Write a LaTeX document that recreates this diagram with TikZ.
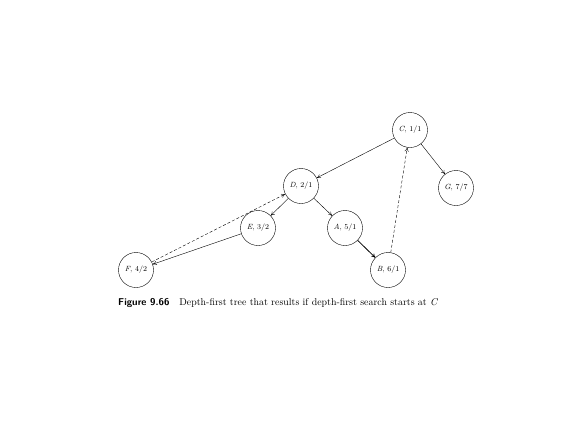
\documentclass[tikz,border=0pt]{standalone}
\usetikzlibrary{arrows.meta}
\begin{document}
\begin{tikzpicture}[x=1pt,y=-1pt,
  vert/.style={circle,draw,line width=0.4pt,minimum size=35pt,inner sep=0pt,font=\fontsize{7.5}{8}\selectfont},
  edge/.style={draw,line width=0.4pt,-{To[length=4pt,width=4pt]}},
  back/.style={edge,dashed,dash pattern=on 3pt off 2pt}]
\useasboundingbox (0,0) rectangle (576,432);
\node[vert] (C) at (410,130) {\textit{C}, 1/1};
\node[vert] (G) at (456,188) {\textit{G}, 7/7};
\node[vert] (D) at (301,186) {\textit{D}, 2/1};
\node[vert] (E) at (258,228) {\textit{E}, 3/2};
\node[vert] (A) at (345,228) {\textit{A}, 5/1};
\node[vert] (F) at (136,270) {\textit{F}, 4/2};
\node[vert] (B) at (388,270) {\textit{B}, 6/1};
\draw[edge] (C) -- (D);
\draw[edge] (C) -- (G);
\draw[edge] (D) -- (E);
\draw[edge] (D) -- (A);
\draw[edge,line width=0.8pt] (A) -- (B);
\draw[edge] (E) -- (F);
\draw[back] (F) -- (D);
\draw[back] (B) -- (C);
\node[anchor=west,inner sep=0pt,font=\fontsize{9.9}{11}\selectfont] (cap) at (118,303)
  {{\sffamily\bfseries Figure 9.66}\quad Depth-first tree that results if depth-first search starts at \textit{C}};
\end{tikzpicture}
\end{document}
